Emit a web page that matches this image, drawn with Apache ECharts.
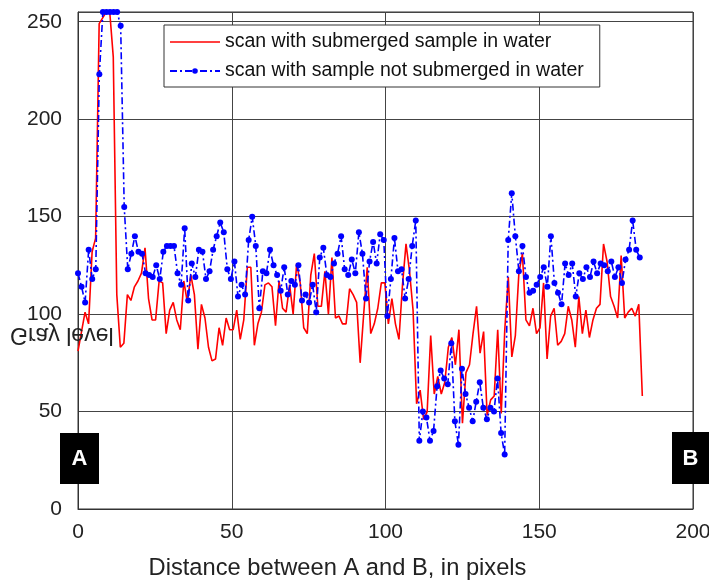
<!DOCTYPE html>
<html>
<head>
<meta charset="utf-8">
<script src="https://cdn.jsdelivr.net/npm/echarts@6/dist/echarts.min.js"></script>
<style>
html,body{margin:0;padding:0;background:#fff;}
#c{width:709px;height:583px;}
</style>
</head>
<body>
<div id="c"></div>
<script>
// ---- data ----
const seriesNames = ['scan with submerged sample in water', 'scan with sample not submerged in water'];
const xTicks = [0, 50, 100, 150, 200];
const yTicks = [0, 50, 100, 150, 200, 250];
const redStep = 1.147;      // distance (pixels) between successive samples, submerged scan
const blueStep = 1.15625;   // distance (pixels) between successive samples, non-submerged scan

const submerged = [
 81, 91, 101, 95, 132, 139, 249, 252, 255, 255,
 232, 110, 83, 85, 110, 107, 114, 117, 121, 134,
 108, 97, 97, 117, 116, 90, 102, 106, 97, 92,
 117, 106, 120, 110, 82, 105, 98, 83, 76, 77,
 93, 84, 98, 92, 92, 102, 87, 97, 124, 124,
 84, 95, 101, 115, 116, 114, 94, 117, 103, 101,
 115, 100, 126, 116, 93, 90, 120, 131, 104, 104,
 122, 100, 129, 98, 99, 95, 95, 113, 110, 106,
 75, 100, 124, 90, 95, 103, 116, 116, 95, 108,
 95, 87, 115, 136, 122, 102, 54, 61, 46, 50,
 89, 59, 68, 59, 65, 83, 88, 74, 92, 44,
 70, 74, 90, 104, 80, 91, 48, 56, 58, 92,
 49, 92, 119, 78, 89, 121, 131, 97, 94, 103,
 90, 93, 116, 77, 99, 103, 84, 86, 90, 104,
 97, 83, 109, 90, 102, 88, 97, 103, 105, 136,
 127, 109, 104, 98, 130, 98, 101, 103, 99, 105,
 58
];

const notSubmerged = [
 121, 114, 106, 133, 118, 123, 223, 255, 255, 255,
 255, 255, 248, 155, 123, 131, 140, 132, 131, 121,
 120, 119, 125, 118, 132, 135, 135, 135, 121, 115,
 144, 107, 126, 119, 133, 132, 118, 122, 133, 140,
 147, 142, 123, 118, 127, 109, 115, 110, 138, 150,
 135, 103, 122, 121, 133, 125, 120, 112, 124, 110,
 117, 115, 125, 107, 110, 106, 115, 101, 129, 134,
 120, 119, 126, 131, 140, 123, 120, 128, 121, 142,
 131, 108, 127, 137, 126, 141, 138, 99, 118, 139,
 122, 123, 108, 118, 135, 148, 35, 50, 47, 35,
 40, 63, 71, 67, 64, 85, 45, 33, 72, 59,
 52, 45, 55, 65, 52, 46, 52, 50, 67, 39,
 28, 138, 162, 140, 122, 135, 119, 111, 112, 115,
 119, 124, 114, 140, 116, 111, 105, 126, 120, 126,
 109, 121, 118, 124, 119, 127, 121, 126, 125, 122,
 127, 119, 124, 116, 128, 133, 148, 133, 129
];

const xTitle = 'Distance between A and B, in pixels';
const yTitle = 'Gray level';
const endLabels = ['A', 'B'];

// ---- chart ----
const FONT = '"Liberation Sans", Arial, sans-serif';
const chart = echarts.init(document.getElementById('c'), null, {renderer: 'canvas'});

const redData = submerged.map((v, i) => [i * redStep, v]);
const blueData = notSubmerged.map((v, i) => [i * blueStep, v]);

chart.setOption({
  animation: false,
  backgroundColor: '#ffffff',
  grid: {left: 78, right: 16, top: 12, bottom: 74, containLabel: false, outerBoundsMode: 'none',
         show: true, borderColor: '#333', borderWidth: 1, backgroundColor: 'transparent'},
  xAxis: {
    type: 'value', min: xTicks[0], max: xTicks[xTicks.length - 1], interval: 50,
    axisLine: {show: true, lineStyle: {color: '#333', width: 1}},
    axisTick: {show: false},
    axisLabel: {fontFamily: FONT, fontSize: 21, color: '#222', margin: 13},
    splitLine: {show: true, lineStyle: {color: '#444', width: 1}}
  },
  yAxis: {
    type: 'value', min: yTicks[0], max: 255, interval: 50,
    axisLine: {show: true, lineStyle: {color: '#333', width: 1}},
    axisTick: {show: false},
    axisLabel: {fontFamily: FONT, fontSize: 21, color: '#222', margin: 16,
      formatter: v => (yTicks.indexOf(v) >= 0 ? String(v) : '')},
    splitLine: {show: true, lineStyle: {color: '#444', width: 1}}
  },
  legend: {
    orient: 'vertical', left: 164, top: 25,
    backgroundColor: '#fff', borderColor: '#333', borderWidth: 1, borderRadius: 0,
    padding: [7, 16, 6, 5],
    itemWidth: 50, itemHeight: 7, itemGap: 9,
    textStyle: {fontFamily: FONT, fontSize: 19.5, color: '#111', lineHeight: 20},
    data: [
      {name: seriesNames[0], icon: 'path://M0 0H50V1.6H0Z'},
      {name: seriesNames[1]}
    ]
  },
  series: [
    {
      name: seriesNames[0], type: 'line', data: redData,
      showSymbol: false, symbol: 'none',
      lineStyle: {color: '#ff0000', width: 1.6},
      itemStyle: {color: '#ff0000'},
      z: 2
    },
    {
      name: seriesNames[1], type: 'line', data: blueData,
      symbol: 'circle', symbolSize: 6, showSymbol: true,
      lineStyle: {color: '#0000ff', width: 1.6, type: [7, 3, 2, 3]},
      itemStyle: {color: '#0000ff'},
      z: 3
    }
  ],
  graphic: [
    {type: 'text', x: 10, y: 334, scaleY: -1, z: 100,
     style: {text: yTitle, font: '23px ' + FONT, fill: '#222', verticalAlign: 'middle', align: 'left'}},
    {type: 'text', x: 337.5, y: 568, z: 100,
     style: {text: xTitle, font: '23.7px ' + FONT, fill: '#222', verticalAlign: 'middle', align: 'center'}},
    {type: 'rect', shape: {x: 60, y: 433, width: 39, height: 51}, style: {fill: '#000'}, z: 100},
    {type: 'text', x: 79.5, y: 459, z: 101,
     style: {text: endLabels[0], font: 'bold 22px ' + FONT, fill: '#fff', align: 'center', verticalAlign: 'middle'}},
    {type: 'rect', shape: {x: 672, y: 432, width: 37, height: 52}, style: {fill: '#000'}, z: 100},
    {type: 'text', x: 690.5, y: 459, z: 101,
     style: {text: endLabels[1], font: 'bold 22px ' + FONT, fill: '#fff', align: 'center', verticalAlign: 'middle'}}
  ]
});
</script>
</body>
</html>
